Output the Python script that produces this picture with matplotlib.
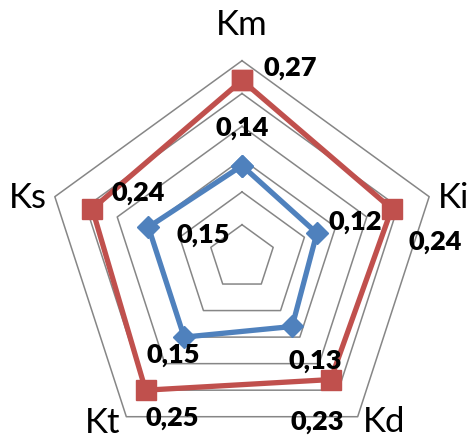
import numpy as np
import matplotlib
matplotlib.use("Agg")
import matplotlib.pyplot as plt

# Radar data
categories = ["Km", "Ki", "Kd", "Kt", "Ks"]
series_red = [0.27, 0.24, 0.23, 0.25, 0.24]
series_blue = [0.14, 0.12, 0.13, 0.15, 0.15]
grid_levels = [0.05, 0.10, 0.15, 0.20, 0.25, 0.30]

RED = "#C0504D"
BLUE = "#4F81BD"
GRID = "#868686"

plt.rcParams["font.family"] = ["Lato", "DejaVu Sans"]

W, H, DPI = 468, 439, 100
fig = plt.figure(figsize=(W / DPI, H / DPI), dpi=DPI)
fig.patch.set_facecolor("white")

# polar axes: center and radius in figure pixels
cx, cy, rad = 242, 258.5, 196.8
ax = fig.add_axes([(cx - rad) / W, (H - cy - rad) / H, 2 * rad / W, 2 * rad / H],
                  projection="polar")
ax.set_theta_offset(np.pi / 2)
ax.set_theta_direction(-1)
ax.set_ylim(0, grid_levels[-1])
ax.grid(False)
ax.set_xticks([])
ax.set_yticks([])
ax.spines["polar"].set_visible(False)
ax.patch.set_visible(False)

n = len(categories)
theta = np.arange(n) * 2 * np.pi / n
theta_c = np.append(theta, theta[0])

# pentagon gridlines
for lv in grid_levels:
    ax.plot(theta_c, [lv] * (n + 1), color=GRID, lw=1.1, zorder=1, clip_on=False)

def closed(v):
    return list(v) + [v[0]]

ax.plot(theta_c, closed(series_red), color=RED, lw=3.8, marker="s", ms=14.5,
        zorder=3, clip_on=False)
ax.plot(theta_c, closed(series_blue), color=BLUE, lw=3.8, marker="D", ms=11,
        zorder=4, clip_on=False)

# category labels near the outer vertices
cat_offsets = [(0, 37), (24, 0), (26, -4), (-24, -5), (-27, 0)]
for t, name, off in zip(theta, categories, cat_offsets):
    ax.annotate(name, xy=(t, grid_levels[-1]), xytext=off, textcoords="offset pixels",
                ha="center", va="center", fontsize=25, color="black",
                annotation_clip=False)

def fmt(v):
    return f"{v:.2f}".replace(".", ",")

red_offsets = [(48, 13), (43, -32), (-13, -41), (27, -27), (46, 17)]
blue_offsets = [(0, 39), (38, 12), (23, -34), (-11, -17), (55, -7)]
for vals, offs in ((series_red, red_offsets), (series_blue, blue_offsets)):
    for t, v, off in zip(theta, vals, offs):
        ax.annotate(fmt(v), xy=(t, v), xytext=off, textcoords="offset pixels",
                    ha="center", va="center", fontsize=19.5, fontweight="heavy",
                    color="black", zorder=5, annotation_clip=False)

fig.savefig("out.png", dpi=DPI)
